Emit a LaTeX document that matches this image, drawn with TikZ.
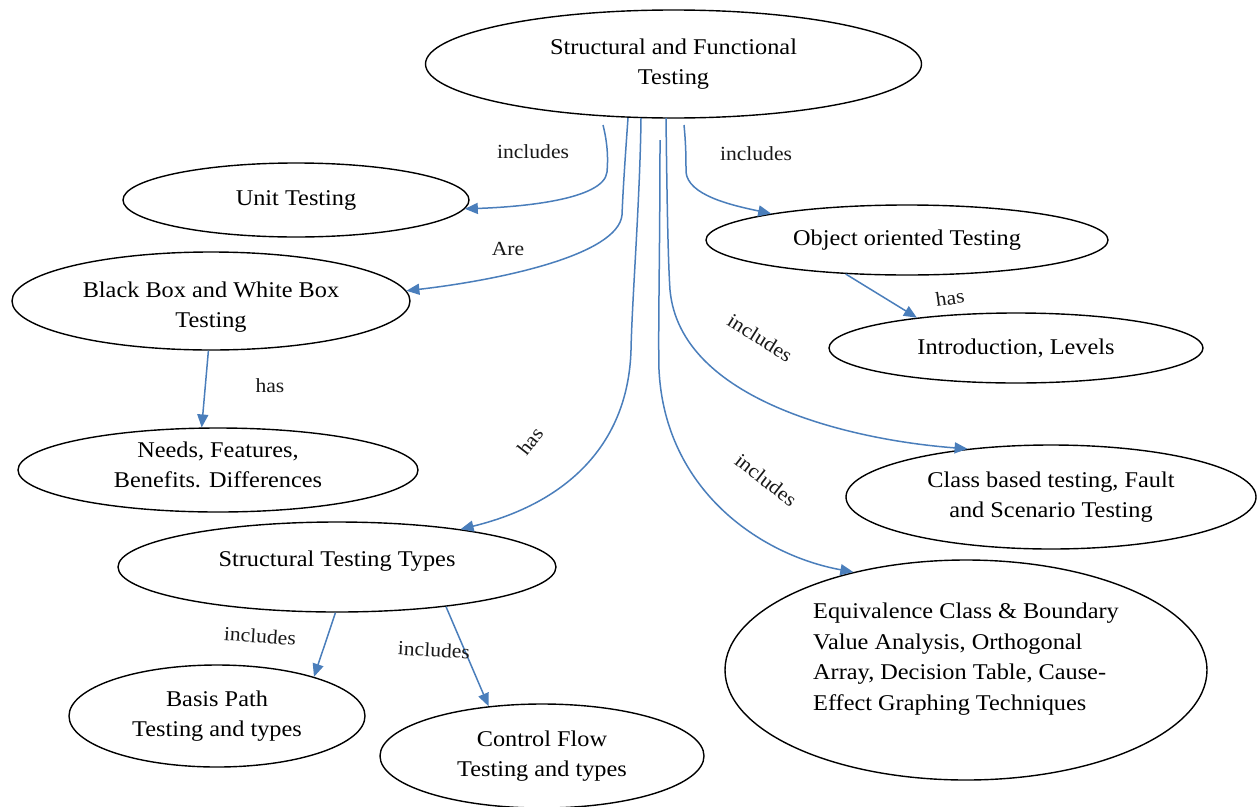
\documentclass[tikz,border=0pt]{standalone}
\usepackage{fontspec}
\setmainfont{Liberation Serif}[FakeStretch=1.08]
\usetikzlibrary{arrows.meta,shapes.geometric}
\definecolor{linkblue}{RGB}{74,126,187}
\begin{document}
\begin{tikzpicture}[x=1pt,y=-1pt,
  oval/.style={ellipse, draw=black, line width=1.4pt, inner sep=0pt, align=center,
    font=\fontsize{22.5}{30.5}\selectfont},
  ovaltext/.style={inner sep=0pt, align=center, font=\fontsize{22.5}{30.5}\selectfont},
  link/.style={draw=linkblue, line width=1.5pt, -{Triangle[length=13pt,width=11pt]}},
  lbl/.style={font=\fontsize{20}{24}\selectfont, text=black!90, inner sep=0pt}]
\useasboundingbox[fill=white] (0,0) rectangle (1257,806);

% nodes
\node[oval, minimum width=496pt, minimum height=108pt] (top) at (673.5,64) {Structural and Functional\\Testing};
\node[oval, minimum width=346pt, minimum height=74pt] (unit) at (296,200) {Unit Testing};
\node[oval, minimum width=398pt, minimum height=98pt] (bb) at (211,301) {};
\node[ovaltext] (bbt) at (211,307) {Black Box and White Box\\Testing};
\node[oval, minimum width=400pt, minimum height=84pt] (needs) at (218,470) {};
\node[ovaltext] (needst) at (218,465) {Needs, Features,\\Benefits. Differences};
\node[oval, minimum width=438pt, minimum height=90pt] (stt) at (337,567) {};
\node[ovaltext] (sttt) at (337,561) {Structural Testing Types};
\node[oval, minimum width=296pt, minimum height=102pt] (basis) at (217,716) {Basis Path\\Testing and types};
\node[oval, minimum width=324pt, minimum height=104pt] (cf) at (542,756) {Control Flow\\Testing and types};
\node[oval, minimum width=402pt, minimum height=70pt] (oo) at (907,240) {Object oriented Testing};
\node[oval, minimum width=374pt, minimum height=70pt] (intro) at (1016,348) {Introduction, Levels};
\node[oval, minimum width=410pt, minimum height=104pt] (cb) at (1051,497) {Class based testing, Fault\\and Scenario Testing};
\node[oval, minimum width=482pt, minimum height=220pt] (eq) at (966,670) {};
\node[ovaltext, align=left] (eqt) at (966,659) {Equivalence Class \& Boundary\\Value Analysis, Orthogonal\\Array, Decision Table, Cause-\\Effect Graphing Techniques};

% start points of the connectors below the top node
\coordinate (s1) at (603,125);
\coordinate (s2) at (628,118);
\coordinate (s3) at (641,118);
\coordinate (s4) at (660,140);
\coordinate (s5) at (666,118);
\coordinate (s6) at (684,125);

% connectors from the top node
\draw[link] (s1) .. controls (608,145) and (608,160) .. (607,172) .. controls (604,200) and (520,207) .. (unit.-3);
\draw[link] (s2) .. controls (625,160) and (623,190) .. (622,215) .. controls (618,255) and (500,280) .. (bb.3);
\draw[link] (s3) .. controls (640,200) and (632,300) .. (631,350) .. controls (628,450) and (560,505) .. (stt.17);
\draw[link] (s4) .. controls (660,250) and (658,330) .. (659,370) .. controls (665,490) and (760,555) .. (eq.139);
\draw[link] (s5) .. controls (667,200) and (668,260) .. (670,290) .. controls (680,400) and (850,440) .. (cb.150);
\draw[link] (s6) .. controls (686,145) and (686,160) .. (686,172) .. controls (688,195) and (730,205) .. (oo.169);

% other connectors
\draw[link] (bb.-93) -- (needs.111);
\draw[link] (oo.-151) -- (intro.163);
\draw[link] (stt.-92) -- (basis.22);
\draw[link] (stt.-20) -- (cf.137);

% labels
\node[lbl] (l1) at (533,152) {includes};
\node[lbl] (l2) at (756,154) {includes};
\node[lbl] (l3) at (508,249) {Are};
\node[lbl] (l4) at (270,386) {has};
\node[lbl, rotate=52] (l5) at (530,441) {has};
\node[lbl, rotate=-32] (l6) at (760,338) {includes};
\node[lbl, rotate=-38] (l7) at (766,480) {includes};
\node[lbl, rotate=8] (l8) at (950,298) {has};
\node[lbl, rotate=-4] (l9) at (260,636) {includes};
\node[lbl, rotate=-3] (l10) at (434,650) {includes};
\end{tikzpicture}
\end{document}
